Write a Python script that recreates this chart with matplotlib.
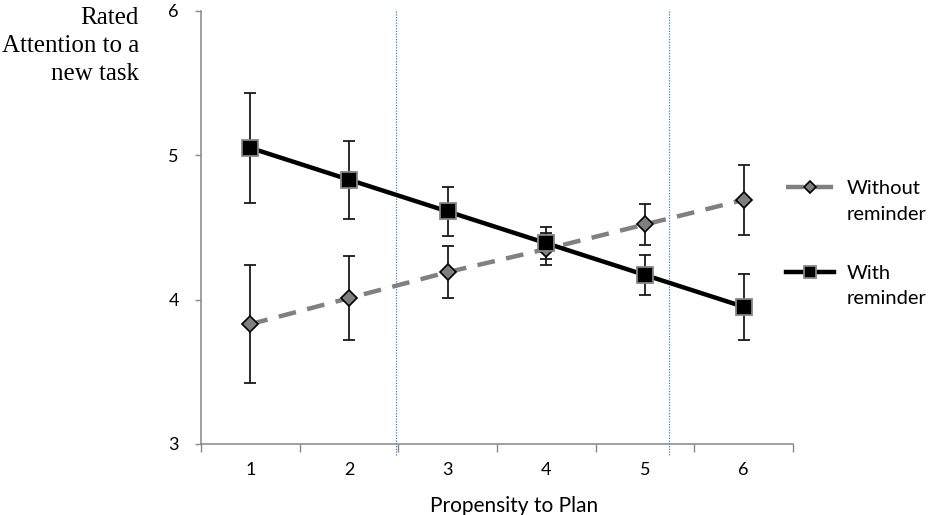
import matplotlib
matplotlib.use("Agg")
import matplotlib.pyplot as plt
import numpy as np
from matplotlib.legend_handler import HandlerLine2D

# data
plan = [1, 2, 3, 4, 5, 6]
with_rem = [5.05, 4.83, 4.61, 4.39, 4.17, 3.95]
with_err = [0.38, 0.27, 0.17, 0.11, 0.14, 0.23]
without_rem = [3.83, 4.01, 4.19, 4.35, 4.52, 4.69]
without_err = [0.41, 0.29, 0.18, 0.11, 0.14, 0.24]
cut_points = [2.48, 5.24]
y_ticks = [3, 4, 5, 6]

plt.rcParams['font.family'] = ['Lato', 'DejaVu Sans']


# Handler that lifts the legend line up to the first line of a two-line label
class FirstLineHandler(HandlerLine2D):
    def create_artists(self, legend, orig_handle, xdescent, ydescent, width,
                       height, fontsize, trans):
        arts = super().create_artists(legend, orig_handle, xdescent, ydescent,
                                      width, height, fontsize, trans)
        for a in arts:
            a.set_ydata(np.asarray(a.get_ydata()) + 0.72 * fontsize)
        return arts


fig = plt.figure(figsize=(9.29, 5.15), dpi=100)
ax = fig.add_axes([0.2164, 0.1379, 0.6372, 0.8413])

# error bars first so the markers sit on top
ax.errorbar(plan, without_rem, yerr=without_err, fmt='none', ecolor='#1a1a1a',
            elinewidth=1.3, capsize=4, capthick=1.3, zorder=2)
ax.errorbar(plan, with_rem, yerr=with_err, fmt='none', ecolor='#1a1a1a',
            elinewidth=1.3, capsize=4, capthick=1.3, zorder=2)

l1, = ax.plot(plan, without_rem, color='#808080', lw=3.2, dashes=(4, 2.6),
              marker='D', markersize=8, markerfacecolor='#7f7f7f',
              markeredgecolor='black', markeredgewidth=1.2, zorder=3,
              label='Without\nreminder')
l2, = ax.plot(plan, with_rem, color='black', lw=3.2, marker='s', markersize=11,
              markerfacecolor='black', markeredgecolor='#868686',
              markeredgewidth=1.3, zorder=4, label='With\nreminder')

for c in cut_points:
    ax.axvline(c, ymin=-0.025, ymax=1, color='#4a7ebb', lw=0.9, ls=(0, (1, 1.2)),
               clip_on=False, zorder=1)

ax.set_xlim(0.5, 6.5)
ax.set_ylim(3, 6)
ax.set_yticks(y_ticks)
ax.set_xticks(plan)
ax.set_xticks(np.arange(0.5, 7, 1), minor=True)
ax.tick_params(axis='x', which='major', length=0, pad=13, labelsize=13)
ax.tick_params(axis='x', which='minor', length=6, width=1, color='#868686')
ax.tick_params(axis='y', length=4, width=1, color='#868686', pad=12, labelsize=13)

for s in ['top', 'right']:
    ax.spines[s].set_visible(False)
for s in ['left', 'bottom']:
    ax.spines[s].set_color('#868686')
    ax.spines[s].set_linewidth(1.1)

ax.set_xlabel('Propensity to Plan', fontsize=15, va='center')
ax.xaxis.set_label_coords(0.529, -0.143)

fig.text(0.1496, 0.986, 'Rated\nAttention to a\nnew task', ha='right',
         va='top', multialignment='right', fontsize=18,
         family='Liberation Serif', linespacing=1.36)

leg = fig.legend(handles=[l1, l2], loc='upper left',
                 bbox_to_anchor=(0.8267, 0.686), frameon=False, fontsize=14.5,
                 handlelength=2.4, handletextpad=0.6, labelspacing=2.1,
                 markerscale=0.75,
                 handler_map={matplotlib.lines.Line2D: FirstLineHandler()})
for t in leg.get_texts():
    t.set_linespacing(1.62)

fig.savefig('out.png', dpi=100)
